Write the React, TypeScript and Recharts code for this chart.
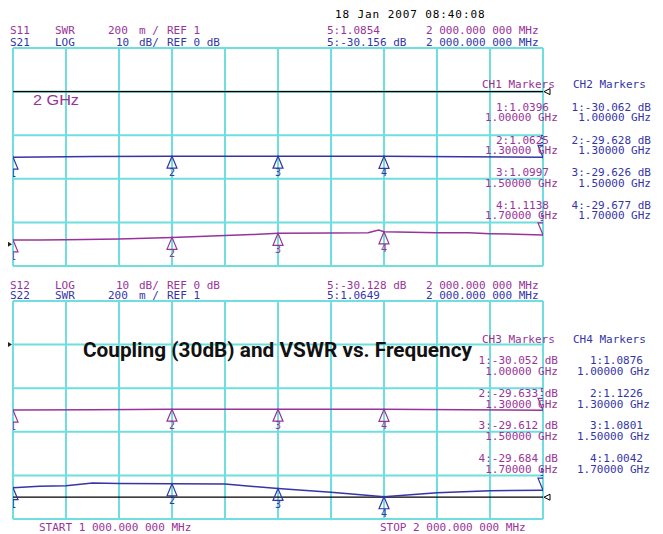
import React from 'react';
import {
  ComposedChart,
  Line,
  Scatter,
  XAxis,
  YAxis,
  CartesianGrid,
  ReferenceLine,
  ReferenceDot,
} from 'recharts';

// ---------- data ----------
const FREQ_TICKS = [1.0, 1.1, 1.2, 1.3, 1.4, 1.5, 1.6, 1.7, 1.8, 1.9, 2.0];
const DB_TICKS = [-80, -70, -60, -50, -40, -30, -20, -10, 0, 10, 20];
const SWR_TICKS = [0.8, 1.0, 1.2, 1.4, 1.6, 1.8, 2.0, 2.2, 2.4, 2.6, 2.8];

const S11_FREQ = [1.0, 1.05, 1.1, 1.2, 1.25, 1.3, 1.4, 1.45, 1.5, 1.6, 1.67, 1.69, 1.7, 1.8, 1.86, 1.9, 1.95, 2.0];
const S11_SWR = [1.0396, 1.038, 1.04, 1.048, 1.055, 1.0625, 1.08, 1.088, 1.0997, 1.103, 1.106, 1.13, 1.1138, 1.105, 1.104, 1.097, 1.092, 1.0854];

const S21_FREQ = [1.0, 1.15, 1.3, 1.5, 1.7, 1.85, 2.0];
const S21_DB = [-30.062, -29.8, -29.628, -29.626, -29.677, -29.9, -30.156];

const S12_FREQ = [1.0, 1.15, 1.3, 1.5, 1.7, 1.85, 2.0];
const S12_DB = [-30.052, -29.85, -29.633, -29.612, -29.684, -29.9, -30.128];

const S22_FREQ = [1.0, 1.05, 1.1, 1.15, 1.2, 1.3, 1.4, 1.5, 1.6, 1.7, 1.8, 1.9, 2.0];
const S22_SWR = [1.0876, 1.1, 1.104, 1.13, 1.125, 1.1226, 1.12, 1.0801, 1.045, 1.0042, 1.04, 1.06, 1.0649];

const MARKER_FREQ = [1.0, 1.3, 1.5, 1.7, 2.0];
const MARKER_IDS = ['1', '2', '3', '4', '5'];
const CH1_MARKERS = [1.0396, 1.0625, 1.0997, 1.1138, 1.0854];
const CH2_MARKERS = [-30.062, -29.628, -29.626, -29.677, -30.156];
const CH3_MARKERS = [-30.052, -29.633, -29.612, -29.684, -30.128];
const CH4_MARKERS = [1.0876, 1.1226, 1.0801, 1.0042, 1.0649];

const STIMULUS = '2 000.000 000 MHz';
const START_LABEL = 'START 1 000.000 000 MHz';
const STOP_LABEL = 'STOP 2 000.000 000 MHz';
const DATE_LABEL = '18 Jan 2007  08:40:08';
const TITLE = 'Coupling (30dB) and VSWR vs. Frequency';

// ---------- style ----------
const PURPLE = '#993399';
const BLUE = '#3535a8';
const GRID = '#6fdede';
const MONO = '"DejaVu Sans Mono", "Liberation Mono", monospace';

const W = 663;
const H = 534;

const series = (fs: number[], vs: number[]) => fs.map((f, i) => ({ f, v: vs[i] }));
const markers = (vs: number[]) => MARKER_FREQ.map((f, i) => ({ f, v: vs[i], id: MARKER_IDS[i] }));

const fmtSwr = (v: number) => v.toFixed(4);
const fmtDb = (v: number) => `${v.toFixed(3)} dB`;
const fmtGhz = (f: number) => `${f.toFixed(5)} GHz`;

function MarkerShape(props: any) {
  const { cx, cy, payload, color } = props;
  if (cx == null || cy == null) return null;
  const id = payload?.id;
  if (id === '5') {
    return (
      <g>
        <polygon
          points={`${cx - 5},${cy - 12} ${cx + 5},${cy - 12} ${cx},${cy}`}
          fill="none"
          stroke={color}
          strokeWidth={1.2}
        />
        <text x={cx} y={cy - 14} textAnchor="middle" fontFamily={MONO} fontSize={10} fill={color}>
          {id}
        </text>
      </g>
    );
  }
  return (
    <g>
      <polygon
        points={`${cx},${cy} ${cx - 5},${cy + 12} ${cx + 5},${cy + 12}`}
        fill="none"
        stroke={color}
        strokeWidth={1.2}
      />
      <text x={cx} y={cy + 20} textAnchor="middle" fontFamily={MONO} fontSize={10} fill={color}>
        {id}
      </text>
    </g>
  );
}

const RightRef = (p: any) =>
  p.cx == null ? null : (
    <polygon
      points={`${p.cx + 1},${p.cy} ${p.cx + 7},${p.cy - 3} ${p.cx + 7},${p.cy + 3}`}
      fill="#fff"
      stroke="#000"
      strokeWidth={1}
    />
  );

const LeftRef = (p: any) =>
  p.cx == null ? null : (
    <path d={`M${p.cx - 5},${p.cy - 2.5} L${p.cx - 1},${p.cy} L${p.cx - 5},${p.cy + 2.5} Z`} fill="#222" />
  );

function Plot(props: {
  margin: any;
  swrData: { f: number; v: number }[];
  dbData: { f: number; v: number }[];
  swrColor: string;
  dbColor: string;
  swrMarkers: any[];
  dbMarkers: any[];
  blackOn: 'db' | 'swr';
  leftOn: 'db' | 'swr';
}) {
  const { margin, swrData, dbData, swrColor, dbColor, swrMarkers, dbMarkers, blackOn, leftOn } = props;
  const refVal = (axis: 'db' | 'swr') => (axis === 'db' ? 0 : 1);
  return (
    <ComposedChart width={W} height={H} margin={margin}>
      <XAxis
        xAxisId="f"
        dataKey="f"
        type="number"
        domain={[1, 2]}
        ticks={FREQ_TICKS}
        allowDataOverflow
        hide
      />
      <YAxis yAxisId="db" type="number" domain={[-80, 20]} ticks={DB_TICKS} hide />
      <YAxis yAxisId="swr" type="number" domain={[0.8, 2.8]} ticks={SWR_TICKS} hide />
      <CartesianGrid xAxisId="f" yAxisId="db" stroke={GRID} strokeWidth={2} fill="none" />
      <ReferenceLine xAxisId="f" yAxisId={blackOn} y={refVal(blackOn)} stroke="#000" strokeWidth={1.3} />
      <ReferenceDot xAxisId="f" yAxisId={blackOn} x={2} y={refVal(blackOn)} shape={RightRef} />
      <ReferenceDot xAxisId="f" yAxisId={leftOn} x={1} y={refVal(leftOn)} shape={LeftRef} />
      <Line
        xAxisId="f"
        yAxisId="db"
        data={dbData}
        dataKey="v"
        stroke={dbColor}
        strokeWidth={1.5}
        dot={false}
        isAnimationActive={false}
      />
      <Line
        xAxisId="f"
        yAxisId="swr"
        data={swrData}
        dataKey="v"
        stroke={swrColor}
        strokeWidth={1.5}
        dot={false}
        isAnimationActive={false}
      />
      <Scatter
        xAxisId="f"
        yAxisId="db"
        data={dbMarkers}
        dataKey="v"
        isAnimationActive={false}
        shape={(p: any) => <MarkerShape {...p} color={dbColor} />}
      />
      <Scatter
        xAxisId="f"
        yAxisId="swr"
        data={swrMarkers}
        dataKey="v"
        isAnimationActive={false}
        shape={(p: any) => <MarkerShape {...p} color={swrColor} />}
      />
    </ComposedChart>
  );
}

const T = (p: any) => (
  <text fontFamily={MONO} fontSize={11} {...p}>
    {p.children}
  </text>
);

function Overlay() {
  const topV = (i: number) => 110.7 + i * 32.8;
  const botV = (i: number) => 364 + i * 32.7;
  const four = [0, 1, 2, 3];
  return (
    <svg width={W} height={H} style={{ position: 'absolute', left: 0, top: 0 }}>
      <T x={335} y={17.5} fill="#000" letterSpacing={0.9}>{DATE_LABEL}</T>

      {/* top header */}
      <T x={10} y={34.3} fill={PURPLE}>S11</T>
      <T x={55} y={34.3} fill={PURPLE}>SWR</T>
      <T x={108} y={34.3} fill={PURPLE}>200</T>
      <T x={139} y={34.3} fill={PURPLE}>m /</T>
      <T x={167} y={34.3} fill={PURPLE}>REF 1</T>
      <T x={327} y={34.3} fill={PURPLE}>{`5:${fmtSwr(CH1_MARKERS[4])}`}</T>
      <T x={426} y={34.3} fill={PURPLE}>{STIMULUS}</T>
      <T x={10} y={46} fill={BLUE}>S21</T>
      <T x={55} y={46} fill={BLUE}>LOG</T>
      <T x={116} y={46} fill={BLUE}>10</T>
      <T x={139} y={46} fill={BLUE}>dB/</T>
      <T x={167} y={46} fill={BLUE}>REF 0 dB</T>
      <T x={327} y={46} fill={BLUE}>{`5:${fmtDb(CH2_MARKERS[4])}`}</T>
      <T x={426} y={46} fill={BLUE}>{STIMULUS}</T>

      {/* bottom header */}
      <T x={10} y={289.3} fill={PURPLE}>S12</T>
      <T x={55} y={289.3} fill={PURPLE}>LOG</T>
      <T x={116} y={289.3} fill={PURPLE}>10</T>
      <T x={139} y={289.3} fill={PURPLE}>dB/</T>
      <T x={167} y={289.3} fill={PURPLE}>REF 0 dB</T>
      <T x={327} y={289.3} fill={PURPLE}>{`5:${fmtDb(CH3_MARKERS[4])}`}</T>
      <T x={426} y={289.3} fill={PURPLE}>{STIMULUS}</T>
      <T x={10} y={299.3} fill={BLUE}>S22</T>
      <T x={55} y={299.3} fill={BLUE}>SWR</T>
      <T x={108} y={299.3} fill={BLUE}>200</T>
      <T x={139} y={299.3} fill={BLUE}>m /</T>
      <T x={167} y={299.3} fill={BLUE}>REF 1</T>
      <T x={327} y={299.3} fill={BLUE}>{`5:${fmtSwr(CH4_MARKERS[4])}`}</T>
      <T x={426} y={299.3} fill={BLUE}>{STIMULUS}</T>

      {/* 2 GHz label */}
      <text x={33} y={105} fontFamily='"Liberation Sans", Arial, sans-serif' fontSize={14} fill={PURPLE} textLength={46} lengthAdjust="spacingAndGlyphs">
        2 GHz
      </text>

      {/* top marker tables */}
      <T x={482} y={87.5} fill={PURPLE}>CH1 Markers</T>
      <T x={573} y={87.5} fill={BLUE}>CH2 Markers</T>
      {four.map((i) => (
        <g key={'t' + i}>
          <T x={496} y={topV(i)} fill={PURPLE}>{`${i + 1}:${fmtSwr(CH1_MARKERS[i])}`}</T>
          <T x={485} y={topV(i) + 10.3} fill={PURPLE}>{fmtGhz(MARKER_FREQ[i])}</T>
          <T x={651} y={topV(i)} fill={BLUE} textAnchor="end">{`${i + 1}:${fmtDb(CH2_MARKERS[i])}`}</T>
          <T x={651} y={topV(i) + 10.3} fill={BLUE} textAnchor="end">{fmtGhz(MARKER_FREQ[i])}</T>
        </g>
      ))}

      {/* bottom marker tables */}
      <T x={482} y={343.3} fill={PURPLE}>CH3 Markers</T>
      <T x={573} y={343.3} fill={BLUE}>CH4 Markers</T>
      {four.map((i) => (
        <g key={'b' + i}>
          <T x={558} y={botV(i)} fill={PURPLE} textAnchor="end">{`${i + 1}:${fmtDb(CH3_MARKERS[i])}`}</T>
          <T x={558} y={botV(i) + 11} fill={PURPLE} textAnchor="end">{fmtGhz(MARKER_FREQ[i])}</T>
          <T x={590} y={botV(i)} fill={BLUE}>{`${i + 1}:${fmtSwr(CH4_MARKERS[i])}`}</T>
          <T x={577} y={botV(i) + 11} fill={BLUE}>{fmtGhz(MARKER_FREQ[i])}</T>
        </g>
      ))}

      {/* title */}
      <text
        x={83}
        y={357}
        fontFamily='Roboto, "Liberation Sans", sans-serif'
        fontWeight={700}
        fontSize={21}
        fill="#111"
        textLength={389}
        lengthAdjust="spacingAndGlyphs"
      >
        {TITLE}
      </text>

      <T x={39} y={530.5} fill={PURPLE}>{START_LABEL}</T>
      <T x={380} y={530.5} fill={PURPLE}>{STOP_LABEL}</T>
    </svg>
  );
}

export default function App() {
  return (
    <div style={{ position: 'absolute', left: 0, top: 0, width: W, height: H, background: '#fff', overflow: 'hidden' }}>
      <div style={{ position: 'absolute', left: 0, top: 0 }}>
        <Plot
          margin={{ top: 48, left: 13, right: 120, bottom: H - 266 }}
          swrData={series(S11_FREQ, S11_SWR)}
          dbData={series(S21_FREQ, S21_DB)}
          swrColor={PURPLE}
          dbColor={BLUE}
          swrMarkers={markers(CH1_MARKERS)}
          dbMarkers={markers(CH2_MARKERS)}
          blackOn="db"
          leftOn="swr"
        />
      </div>
      <div style={{ position: 'absolute', left: 0, top: 0 }}>
        <Plot
          margin={{ top: 301, left: 13, right: 120, bottom: H - 519 }}
          swrData={series(S22_FREQ, S22_SWR)}
          dbData={series(S12_FREQ, S12_DB)}
          swrColor={BLUE}
          dbColor={PURPLE}
          swrMarkers={markers(CH4_MARKERS)}
          dbMarkers={markers(CH3_MARKERS)}
          blackOn="swr"
          leftOn="db"
        />
      </div>
      <Overlay />
    </div>
  );
}
